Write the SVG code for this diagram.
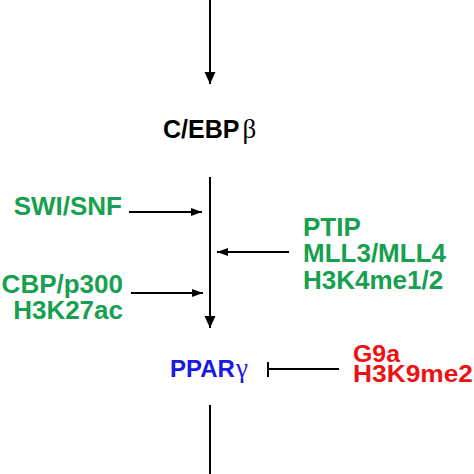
<svg xmlns="http://www.w3.org/2000/svg" width="474" height="474" viewBox="0 0 474 474">
  <style>
    .lbl { font-family: "Liberation Sans", Arial, sans-serif; font-weight: bold; }
    .grk { font-family: "Liberation Serif", "Times New Roman", serif; font-weight: normal; font-size: 27px; }
    .g { fill: #17a04f; font-size: 26px; }
    .r { fill: #ee1111; font-size: 24px; }
    .k { fill: #000000; font-size: 25px; }
    .b { fill: #1a1ae6; font-size: 24px; }
    .ln { stroke: #000; stroke-width: 2; fill: none; }
  </style>
  <defs>
    <marker id="bigHead" markerUnits="userSpaceOnUse" markerWidth="12" markerHeight="12" refX="12" refY="6" orient="auto">
      <path d="M0,0.5 L12,6 L0,11.5 Z" fill="#000"/>
    </marker>
    <marker id="smallHead" markerUnits="userSpaceOnUse" markerWidth="11" markerHeight="9" refX="11" refY="4.5" orient="auto">
      <path d="M0,0.5 L11,4.5 L0,8.5 Z" fill="#000"/>
    </marker>
  </defs>
  <rect width="474" height="474" fill="#fff"/>

  <g id="connectors">
    <line class="ln" x1="210" y1="0" x2="210" y2="84" marker-end="url(#bigHead)"/>
    <line class="ln" x1="210" y1="177" x2="210" y2="328" marker-end="url(#bigHead)"/>
    <line class="ln" x1="129" y1="212" x2="202" y2="212" marker-end="url(#smallHead)"/>
    <line class="ln" x1="289" y1="252" x2="217" y2="252" marker-end="url(#smallHead)"/>
    <line class="ln" x1="131" y1="293" x2="203" y2="293" marker-end="url(#smallHead)"/>
    <line class="ln" x1="268" y1="369" x2="339" y2="369"/>
    <line class="ln" x1="268" y1="362" x2="268" y2="377"/>
    <line class="ln" x1="210" y1="405" x2="210" y2="474"/>
  </g>

  <g id="cebpb">
    <text class="lbl k" x="163" y="138">C/EBP<tspan class="grk" dx="3">β</tspan></text>
  </g>
  <g id="swisnf">
    <text class="lbl g" x="122" y="215" text-anchor="end">SWI/SNF</text>
  </g>
  <g id="ptip">
    <text class="lbl g" x="303" y="236">PTIP</text>
    <text class="lbl g" x="303" y="262">MLL3/MLL4</text>
    <text class="lbl g" x="303" y="289">H3K4me1/2</text>
  </g>
  <g id="cbp">
    <text class="lbl g" x="123" y="293" text-anchor="end">CBP/p300</text>
    <text class="lbl g" x="123" y="319" text-anchor="end">H3K27ac</text>
  </g>
  <g id="pparg">
    <text class="lbl b" x="170" y="377">PPAR<tspan class="grk" dx="1">γ</tspan></text>
  </g>
  <g id="g9a">
    <text class="lbl r" x="353" y="362" textLength="47" lengthAdjust="spacingAndGlyphs">G9a</text>
    <text class="lbl r" x="353" y="382" textLength="120" lengthAdjust="spacingAndGlyphs">H3K9me2</text>
  </g>
</svg>
